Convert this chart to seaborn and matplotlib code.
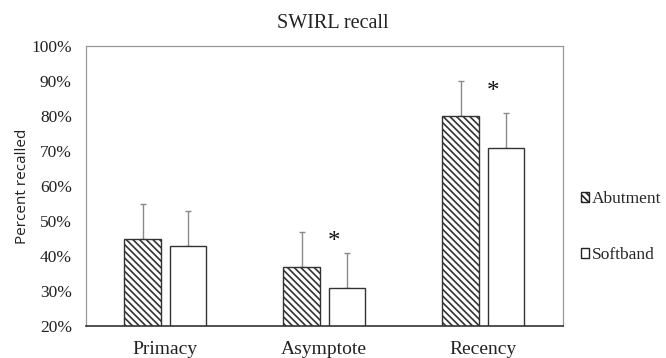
import matplotlib
matplotlib.use("Agg")
import matplotlib.pyplot as plt
from matplotlib.patches import Patch
import seaborn as sns
import pandas as pd

categories = ["Primacy", "Asymptote", "Recency"]
groups = ["Abutment", "Softband"]
abutment = [45, 37, 80]
softband = [43, 31, 71]
abutment_err = [10, 10, 10]
softband_err = [10, 10, 10]
star_categories = ["Asymptote", "Recency"]
star_y = [44, 87]
yticks = [20, 30, 40, 50, 60, 70, 80, 90, 100]

df = pd.DataFrame({
    "category": categories * 2,
    "group": [groups[0]] * 3 + [groups[1]] * 3,
    "value": abutment + softband,
})

sns.set_style("white")
plt.rcParams["hatch.linewidth"] = 1.2
plt.rcParams["hatch.color"] = "#2a2a2a"

HATCH = "\\" * 5
SERIF = "Liberation Serif"

fig = plt.figure(figsize=(6.66, 3.58), dpi=100)
ax = fig.add_axes([85.7 / 666, 1 - 326 / 358, 477 / 666, 280 / 358])

sns.barplot(data=df, x="category", y="value", hue="group", order=categories,
            hue_order=groups, palette=["white", "white"], width=0.57, gap=0.2,
            edgecolor="#333333", linewidth=1.0, ax=ax, legend=False, errorbar=None)

errs = abutment_err + softband_err
for i, patch in enumerate(ax.patches[:6]):
    cx = patch.get_x() + patch.get_width() / 2
    top = patch.get_height()
    if i < 3:
        patch.set_hatch(HATCH)
    ax.errorbar(cx, top, yerr=[[0], [errs[i]]], color="#8a8a8a", elinewidth=1.0,
                capsize=2.2, capthick=1.0, zorder=1)
    patch.set_zorder(2)

for cat, y in zip(star_categories, star_y):
    xi = categories.index(cat)
    ax.text(xi + 0.06, y, "*", ha="center", va="center", fontsize=18,
            family=SERIF, color="#111111")

ax.set_ylim(20, 100)
ax.set_xlim(-0.5, 2.5)
ax.set_yticks(yticks)
ax.set_yticklabels([f"{t}%" for t in yticks], family=SERIF, fontsize=12.5, color="#222222")
ax.set_xticks(range(len(categories)))
ax.set_xticklabels(categories, family=SERIF, fontsize=14, color="#222222")
ax.tick_params(axis="x", length=0, pad=11)
ax.tick_params(axis="y", length=0, pad=10)
ax.set_xlabel("")
ax.set_ylabel("Percent recalled", family="Open Sans", fontsize=11, labelpad=1, color="#222222")
ax.set_title("SWIRL recall", family=SERIF, fontsize=14.5, pad=13, x=0.518, color="#222222")

for s in ["top", "right", "left"]:
    ax.spines[s].set_color("#999999")
    ax.spines[s].set_linewidth(0.9)
ax.spines["bottom"].set_color("#333333")
ax.spines["bottom"].set_linewidth(1.2)

handles = [Patch(facecolor="white", edgecolor="#222222", hatch=HATCH, label=groups[0]),
           Patch(facecolor="white", edgecolor="#222222", label=groups[1])]
fig.legend(handles=handles, loc="center left", bbox_to_anchor=(572 / 666, 1 - 227 / 358),
           frameon=False, borderpad=0, handlelength=0.5, handleheight=0.5, handletextpad=0.15,
           labelspacing=2.3, prop={"family": SERIF, "size": 12.5})

fig.savefig("out.png", dpi=100)
